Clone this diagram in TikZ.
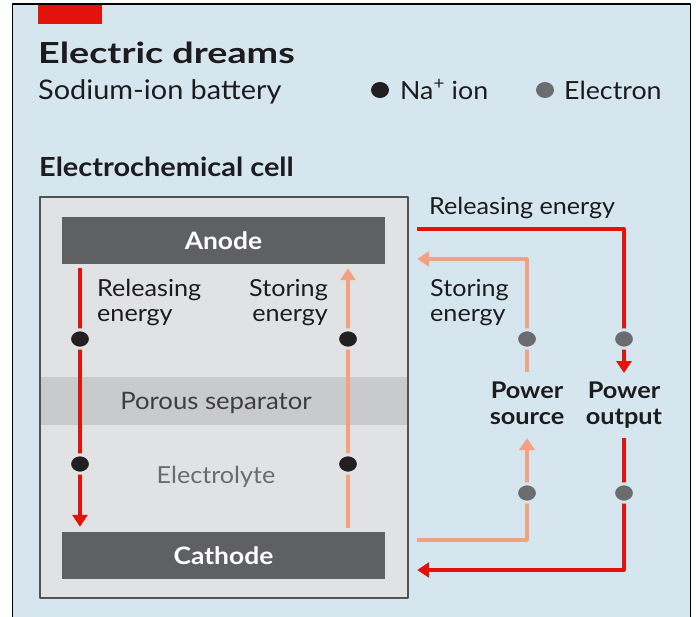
\documentclass[tikz,border=0pt]{standalone}
\usepackage{fontspec}
\setmainfont{Lato}[FakeStretch=1.07]
\newfontfamily\semibold{Lato}[FakeStretch=1.1]
\newfontfamily\titleface{Lato}[FakeStretch=1.3]
\usetikzlibrary{arrows.meta,shapes.geometric}
\definecolor{bgblue}{HTML}{D6E6EF}
\definecolor{cellgray}{HTML}{E1E2E4}
\definecolor{sepgray}{HTML}{C9CACC}
\definecolor{electrodegray}{HTML}{5F6062}
\definecolor{econred}{HTML}{E3120B}
\definecolor{storeorange}{HTML}{F4A183}
\definecolor{iondark}{HTML}{231F20}
\definecolor{electrongray}{HTML}{6B6C6E}
\definecolor{inkdark}{HTML}{1C1C1E}
\begin{document}
\begin{tikzpicture}[x=1pt, y=-1pt, line join=round, >={Triangle[length=12pt,width=15pt]},
  electrode/.style={fill=electrodegray, text=white, font=\fontsize{24}{28}\selectfont\semibold\bfseries,
    minimum width=323pt, minimum height=47pt, inner sep=0pt},
  label/.style={text=inkdark, font=\fontsize{23.5}{25}\selectfont, inner sep=0pt},
  powerlabel/.style={text=inkdark, font=\fontsize{23}{26}\selectfont\semibold\bfseries, inner sep=0pt, align=center},
  relline/.style={draw=econred, line width=3.3pt},
  stoline/.style={draw=storeorange, line width=3.1pt},
  ion/.style={ellipse, fill=iondark, draw=cellgray, line width=3pt, minimum width=21pt, minimum height=18.5pt, inner sep=0pt},
  electron/.style={ellipse, fill=electrongray, draw=bgblue, line width=3pt, minimum width=21pt, minimum height=18.5pt, inner sep=0pt}]
\useasboundingbox (0,0) rectangle (696,616);
\fill[white] (0,0) rectangle (696,616);
\filldraw[fill=bgblue, draw=black, line width=1.5pt] (12.5,4) rectangle (690.5,630);
\fill[econred] (38,5) rectangle (102,24);
% heading
\node[anchor=base west, text=inkdark, font=\fontsize{29}{33}\selectfont\titleface\bfseries, inner sep=0pt] (title) at (38,63) {Electric dreams};
\node[anchor=base west, label, font=\fontsize{27}{30}\selectfont] (subtitle) at (38,99) {Sodium-ion battery};
\node[anchor=base west, text=inkdark, font=\fontsize{26.3}{29}\selectfont\semibold\bfseries, inner sep=0pt] (cellhead) at (39,176) {Electrochemical cell};
% legend
\node[ion, draw=none, minimum width=18pt, minimum height=16pt] (keyion) at (380,90) {};
\node[anchor=base west, label, font=\fontsize{25}{28}\selectfont] at (400,99) {Na\textsuperscript{+} ion};
\node[electron, draw=none, minimum width=18pt, minimum height=16pt] (keyelectron) at (545,90) {};
\node[anchor=base west, label, font=\fontsize{25}{28}\selectfont] at (564,99) {Electron};
% cell
\filldraw[fill=cellgray, draw=electrodegray!85!black, line width=1.3pt] (40,197) rectangle (408,598);
\fill[sepgray] (40.7,377) rectangle (407.3,425);
\node[electrode] (anode) at (223.5,240.5) {Anode};
\node[electrode] (cathode) at (223.5,555.5) {Cathode};
\node[anchor=base, label, font=\fontsize{24}{26}\selectfont, text=inkdark!85] (separator) at (216,409) {Porous separator};
\node[anchor=base, label, text=electrongray] (electrolyte) at (216,483) {Electrolyte};
\node[anchor=base west, label, align=left] at (97,321) {Releasing\\energy};
\node[anchor=base east, label, align=right] at (328,321) {Storing\\energy};
% outside
\node[anchor=base west, label] at (429,214) {Releasing energy};
\node[anchor=base west, label, align=left] at (430,321) {Storing\\energy};
\node[anchor=base, powerlabel] (source) at (527,424) {Power\\source};
\node[anchor=base, powerlabel] (output) at (624,424) {Power\\output};
% particle positions
\coordinate (ionA) at (80,339);
\coordinate (ionB) at (80,464);
\coordinate (ionC) at (348,339);
\coordinate (ionD) at (348,464);
\coordinate (toprow) at (0,373);
\coordinate (lowrow) at (0,438);
% currents inside
\draw[relline,->] ([yshift=-4pt]anode.south -| ionA) -- ([yshift=5pt]cathode.north -| ionA);
\draw[stoline,->] ([yshift=4pt]cathode.north -| ionC) -- ([yshift=-4pt]anode.south -| ionC);
% external circuit
\draw[relline,->] ([shift={(32pt,11.5pt)}]anode.east) -| (output |- toprow);
\draw[stoline,->] ([yshift=1pt]source |- toprow) |- ([shift={(32pt,-18.5pt)}]anode.east);
\draw[stoline,->] ([shift={(32pt,15.5pt)}]cathode.east) -| (source |- lowrow);
\draw[relline,->] (output |- lowrow) |- ([shift={(32pt,-14.5pt)}]cathode.east);
% particles
\foreach \p in {ionA,ionB,ionC,ionD}
  \node[ion] at (\p) {};
\foreach \x in {source,output}
  \foreach \y in {339,493}
    \node[electron] at (\x |- 0,\y) {};
\end{tikzpicture}
\end{document}
